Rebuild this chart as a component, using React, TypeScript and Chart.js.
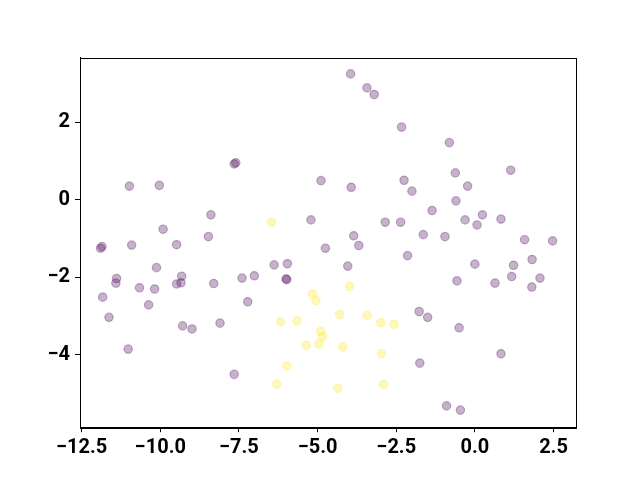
import React, { useEffect, useRef } from "react";
import { Chart, registerables } from "chart.js";

Chart.register(...registerables);

const purpleX = [-7.60, -7.65, -10.98, -10.03, -8.39, -9.91, -8.47, -11.85, -11.90, -10.91, -9.48, -10.12, -11.39, -11.41, -9.32, -9.48, -9.34, -10.66, -10.18, -8.30, -7.40, -7.22, -11.83, -11.63, -10.37, -9.29, -8.99, -8.10, -11.02, -7.65, -3.95, -3.43, -3.20, -2.33, -4.89, -3.93, -2.25, -2.00, -5.21, -2.85, -2.36, -3.85, -3.69, -4.75, -2.14, -6.38, -5.96, -4.04, -7.01, -6.00, -5.98, -0.81, 1.14, -0.62, -0.23, -0.60, -1.36, -0.31, 0.24, 0.07, 0.83, -1.64, -0.95, 1.58, 2.47, 0.00, 1.23, 1.82, -0.57, 0.64, 1.17, 2.07, 1.81, -1.77, -1.50, -0.50, 0.83, -1.75, -0.90, -0.46];
const purpleY = [0.95, 0.92, 0.35, 0.37, -0.39, -0.76, -0.95, -1.21, -1.25, -1.17, -1.16, -1.75, -2.03, -2.15, -1.97, -2.17, -2.14, -2.27, -2.30, -2.16, -2.02, -2.63, -2.51, -3.03, -2.71, -3.25, -3.33, -3.18, -3.85, -4.50, 3.24, 2.88, 2.71, 1.87, 0.49, 0.32, 0.50, 0.22, -0.52, -0.58, -0.58, -0.93, -1.18, -1.25, -1.44, -1.68, -1.65, -1.71, -1.96, -2.04, -2.06, 1.47, 0.76, 0.69, 0.35, -0.03, -0.28, -0.52, -0.39, -0.65, -0.50, -0.90, -0.95, -1.03, -1.06, -1.66, -1.69, -1.54, -2.09, -2.15, -1.98, -2.02, -2.25, -2.88, -3.03, -3.30, -3.97, -4.21, -5.31, -5.42];
const yellowX = [-6.47, -3.98, -5.16, -5.05, -4.30, -3.42, -2.99, -2.57, -6.17, -5.65, -4.90, -4.84, -5.36, -4.96, -4.20, -2.97, -5.98, -6.29, -4.36, -2.90];
const yellowY = [-0.58, -2.23, -2.43, -2.60, -2.96, -2.98, -3.17, -3.21, -3.14, -3.12, -3.39, -3.53, -3.75, -3.72, -3.79, -3.97, -4.28, -4.75, -4.86, -4.76];

const xTicks = [-12.5, -10.0, -7.5, -5.0, -2.5, 0.0, 2.5];
const yTicks = [-4, -2, 0, 2];

const fmt = (v: number, d: number) => {
  const s = Math.abs(v).toFixed(d);
  return v < 0 ? "\u2212" + s : s;
};

export default function App() {
  const ref = useRef<HTMLCanvasElement | null>(null);
  useEffect(() => {
    document.body.style.margin = "0";
    const ctx = ref.current!;
    const font = { family: "Roboto", size: 20, weight: "bold" as const };
    const frame = {
      id: "frame",
      afterDraw(chart: any) {
        const { ctx, chartArea: a } = chart;
        ctx.save();
        ctx.strokeStyle = "#000";
        ctx.lineWidth = 1;
        ctx.strokeRect(Math.round(a.left) + 0.5, Math.round(a.top) + 0.5, Math.round(a.right - a.left), Math.round(a.bottom - a.top));
        ctx.restore();
      },
    };
    const chart = new Chart(ctx, {
      type: "scatter",
      data: {
        datasets: [
          {
            data: purpleX.map((x, i) => ({ x, y: purpleY[i] })),
            backgroundColor: "rgba(68,1,84,0.3)",
            borderColor: "rgba(68,1,84,0.3)",
            borderWidth: 1.2,
            pointRadius: 4.2,
          },
          {
            data: yellowX.map((x, i) => ({ x, y: yellowY[i] })),
            backgroundColor: "rgba(253,231,37,0.3)",
            borderColor: "rgba(253,231,37,0.3)",
            borderWidth: 1.2,
            pointRadius: 4.2,
          },
        ],
      },
      options: {
        animation: false,
        responsive: false,
        layout: { padding: { left: 0, right: 64, top: 57.6, bottom: 0 } },
        plugins: { legend: { display: false }, tooltip: { enabled: false } },
        scales: {
          x: {
            type: "linear",
            min: -12.551,
            max: 3.215,
            afterBuildTicks: (s: any) => { s.ticks = xTicks.map((v) => ({ value: v })); },
            afterFit: (s: any) => { s.height = 52.8; },
            ticks: { color: "#000", font, padding: 4, maxRotation: 0, callback: (v: any) => fmt(Number(v), 1) },
            grid: { drawOnChartArea: false, drawTicks: true, tickLength: 5, color: "#000" },
            border: { display: true, color: "#000" },
          },
          y: {
            type: "linear",
            min: -5.86,
            max: 3.66,
            afterBuildTicks: (s: any) => { s.ticks = yTicks.map((v) => ({ value: v })); },
            afterFit: (s: any) => { s.width = 80; },
            ticks: { color: "#000", font, padding: 5, callback: (v: any) => fmt(Number(v), 0) },
            grid: { drawOnChartArea: false, drawTicks: true, tickLength: 5, color: "#000" },
            border: { display: true, color: "#000" },
          },
        },
      },
      plugins: [frame],
    });
    return () => chart.destroy();
  }, []);
  return (
    <div style={{ position: "fixed", left: 0, top: 0, width: 640, height: 480, background: "#fff" }}>
      <canvas ref={ref} width={640} height={480} style={{ width: 640, height: 480 }} />
    </div>
  );
}
